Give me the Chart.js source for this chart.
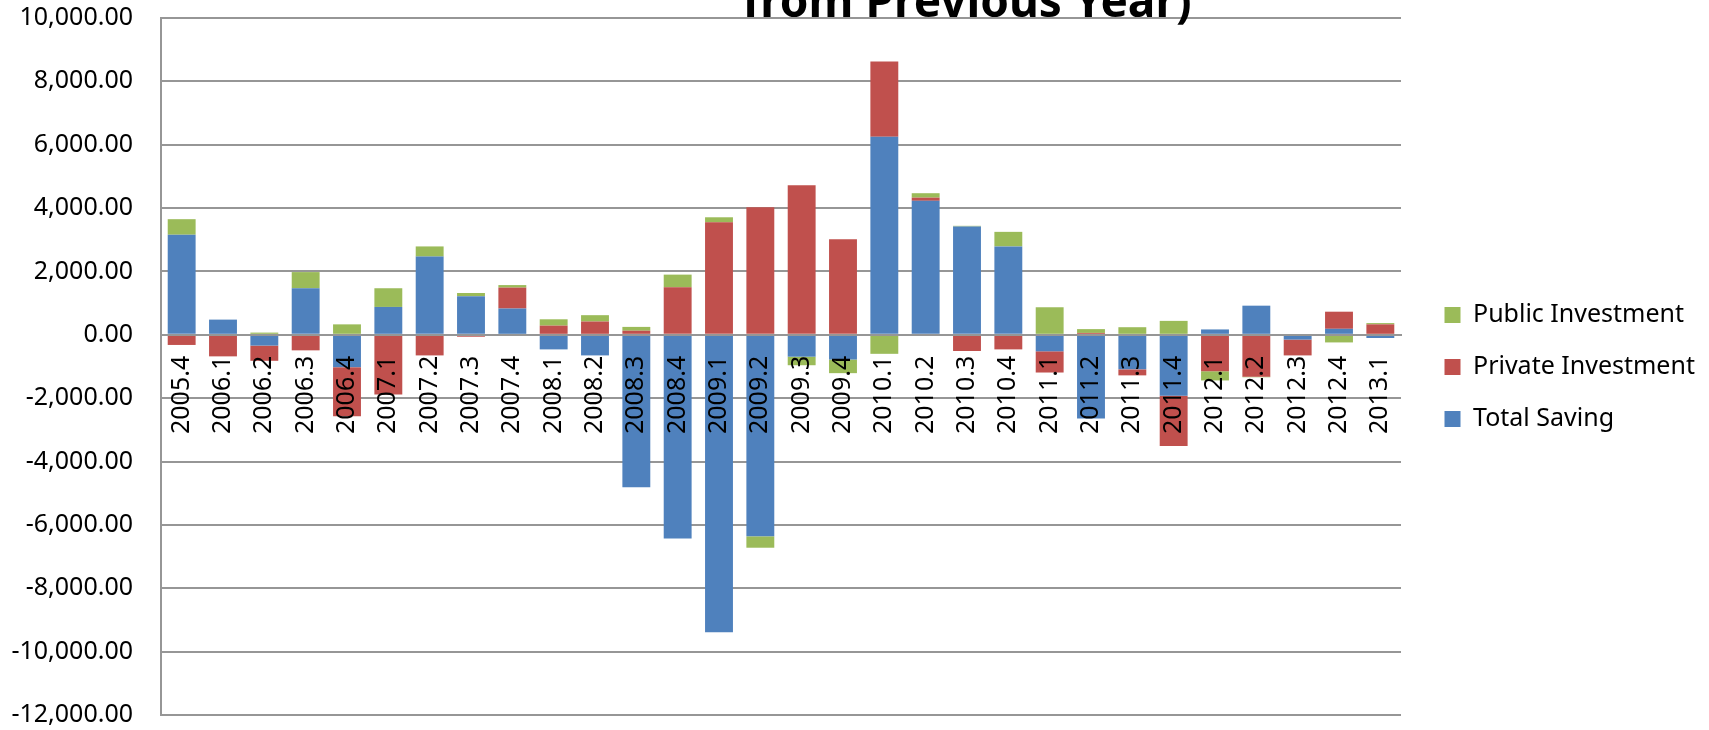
<!DOCTYPE html>
<html>
<head>
<meta charset="utf-8">
<script src="https://cdn.jsdelivr.net/npm/chart.js@4/dist/chart.umd.min.js"></script>
<style>
  html, body { margin: 0; padding: 0; background: #fff; overflow: hidden; }
  #wrap { width: 1709px; height: 730px; }
</style>
</head>
<body>
<div id="wrap"><canvas id="c" width="1709" height="730"></canvas></div>
<script>
// Quarters (year.quarter)
const quarters = [
  '2005.4', '2006.1', '2006.2', '2006.3', '2006.4', '2007.1', '2007.2', '2007.3',
  '2007.4', '2008.1', '2008.2', '2008.3', '2008.4', '2009.1', '2009.2', '2009.3',
  '2009.4', '2010.1', '2010.2', '2010.3', '2010.4', '2011.1', '2011.2', '2011.3',
  '2011.4', '2012.1', '2012.2', '2012.3', '2012.4', '2013.1'
];

// Change from previous year, by component
const totalSaving = [
  3160, 480, -340, 1470, -1020, 880, 2470, 1220,
  830, -460, -650, -4810, -6430, -9390, -6360, -690,
  -780, 6250, 4230, 3420, 2790, -520, -2640, -1090,
  -1920, 170, 920, -150, 190, -100
];
const privateInvestment = [
  -320, -680, -480, -490, -1550, -1880, -650, -60,
  660, 290, 420, 130, 1500, 3550, 4030, 4720,
  3020, 2380, 100, -510, -460, -670, 60, -190,
  -1590, -1150, -1320, -500, 540, 330
];
const publicInvestment = [
  490, 0, 70, 510, 330, 590, 320, 100,
  80, 200, 200, 120, 400, 160, -360, -270,
  -430, -600, 140, 20, 460, 870, 120, 240,
  440, -290, -20, 0, -240, 40
];

const seriesNames = ['Total Saving', 'Private Investment', 'Public Investment'];
const seriesColors = ['#4F81BD', '#C0504D', '#9BBB59'];
const titleText = 'from Previous Year)';

const yMin = -12000, yMax = 10000, yStep = 2000;

const FONT = "'Noto Sans', 'DejaVu Sans', sans-serif";
const GRID = '#969696';
const PLOT_LEFT = 161;
const PLOT_RIGHT = 1401;
const RIGHT_MARGIN = 8;

// Bold heading line, partly running off the top edge
const headingPlugin = {
  id: 'heading',
  afterDraw(chart) {
    const ctx = chart.ctx;
    ctx.save();
    ctx.font = "bold 46px " + FONT;
    ctx.fillStyle = '#000';
    ctx.textAlign = 'center';
    ctx.textBaseline = 'alphabetic';
    ctx.fillText(titleText, 967, 17);
    ctx.restore();
  }
};

const fmt = v => Number(v).toLocaleString('en-US', { minimumFractionDigits: 2, maximumFractionDigits: 2 });

new Chart(document.getElementById('c'), {
  type: 'bar',
  data: {
    labels: quarters,
    datasets: [
      { label: seriesNames[0], data: totalSaving, backgroundColor: seriesColors[0] },
      { label: seriesNames[1], data: privateInvestment, backgroundColor: seriesColors[1] },
      { label: seriesNames[2], data: publicInvestment, backgroundColor: seriesColors[2] }
    ]
  },
  options: {
    responsive: false,
    animation: false,
    devicePixelRatio: 1,
    layout: { padding: { top: 18, bottom: 14, left: 0, right: RIGHT_MARGIN } },
    datasets: {
      bar: { barPercentage: 0.675, categoryPercentage: 1, borderWidth: 0 }
    },
    scales: {
      x: {
        stacked: true,
        position: { y: 0 },
        grid: { display: false, drawTicks: false },
        border: { display: true, color: GRID, width: 2, z: 1 },
        ticks: {
          z: 1,
          autoSkip: false,
          maxRotation: 90,
          minRotation: 90,
          padding: 21,
          color: '#000',
          font: { family: FONT, size: 25 }
        }
      },
      y: {
        stacked: true,
        position: 'left',
        min: yMin,
        max: yMax,
        afterFit(s) { s.width = PLOT_LEFT; },
        grid: { color: GRID, lineWidth: 2, drawTicks: true, tickLength: 28, tickColor: 'rgba(0,0,0,0)' },
        border: { display: true, color: GRID, width: 2 },
        ticks: {
          stepSize: yStep,
          padding: 0,
          color: '#000',
          font: { family: FONT, size: 25 },
          callback: v => fmt(v)
        }
      },
      gap: {
        axis: 'y',
        position: 'right',
        display: true,
        grid: { display: false, drawTicks: false },
        border: { display: false },
        ticks: { display: false },
        afterFit(s) { s.width = Math.max(0, s.chart.width - PLOT_RIGHT - s.chart.legend.width - RIGHT_MARGIN); }
      }
    },
    plugins: {
      legend: {
        position: 'right',
        reverse: true,
        labels: {
          boxWidth: 16,
          boxHeight: 16,
          padding: 27,
          color: '#000',
          font: { family: FONT, size: 25 }
        }
      },
      title: { display: false },
      tooltip: { enabled: false }
    }
  },
  plugins: [headingPlugin]
});
</script>
</body>
</html>
